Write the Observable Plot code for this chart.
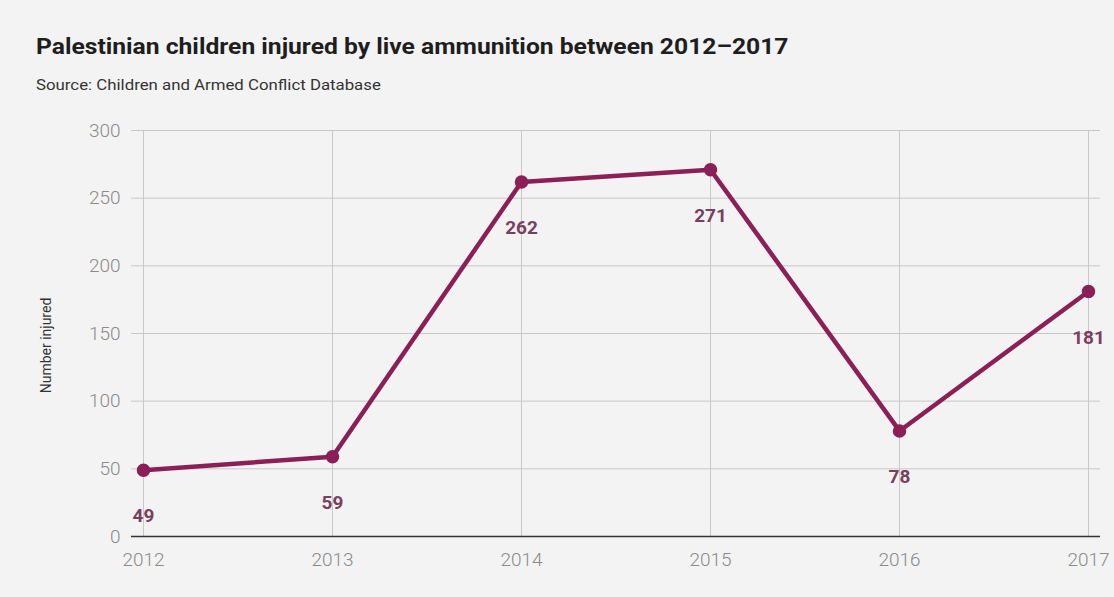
<!DOCTYPE html>
<html>
<head>
<meta charset="utf-8">
<script src="https://cdn.jsdelivr.net/npm/d3@7"></script>
<script src="https://cdn.jsdelivr.net/npm/@observablehq/plot@0.6"></script>
<style>
  html, body { margin: 0; padding: 0; background: #f3f3f3; }
  body { width: 1114px; height: 597px; position: relative; overflow: hidden; font-family: Roboto, "Noto Sans", sans-serif; }
  #title { position: absolute; left: 36px; top: 34px; font-size: 22px; font-weight: 700; color: #1e1e1e; white-space: nowrap; transform-origin: left top; transform: scaleX(1.12); }
  #subtitle { position: absolute; left: 36px; top: 77px; font-size: 14px; color: #333; white-space: nowrap; transform-origin: left top; transform: scaleX(1.2); }
  #chart { position: absolute; left: 0; top: 100px; }
</style>
</head>
<body>
<div id="title">Palestinian children injured by live ammunition between 2012–2017</div>
<div id="subtitle">Source: Children and Armed Conflict Database</div>
<div id="chart"></div>
<script>
const years = [2012, 2013, 2014, 2015, 2016, 2017];
const injured = [49, 59, 262, 271, 78, 181];
const yTicks = [0, 50, 100, 150, 200, 250, 300];
const yLabel = "Number injured";

const data = years.map((y, i) => ({year: y, value: injured[i]}));
const lineColor = "#8c1f56";

const chart = Plot.plot({
  width: 1114,
  height: 476,
  marginTop: 30,
  marginBottom: 40,
  marginLeft: 131,
  marginRight: 14,
  insetLeft: 12,
  insetRight: 12,
  style: {background: "transparent", fontFamily: "Roboto, sans-serif"},
  x: {domain: [2012, 2017], ticks: years, tickFormat: d => String(d)},
  y: {domain: [0, 300], ticks: yTicks},
  marks: [
    Plot.ruleY(yTicks.filter(d => d > 0), {stroke: "#c8c8c8", strokeWidth: 1}),
    Plot.ruleX(years, {stroke: "#c8c8c8", strokeWidth: 1}),
    Plot.ruleY([0], {stroke: "#333", strokeWidth: 1.5}),
    Plot.axisX({ticks: years, tickFormat: d => String(d), tickSize: 0, tickPadding: 16, fontSize: 19, fontWeight: 300, letterSpacing: 1, fill: "#8a8a8a", label: null}),
    Plot.axisY({ticks: yTicks, tickSize: 0, tickPadding: 11, fontSize: 19, fontWeight: 300, letterSpacing: 1, fill: "#8a8a8a", label: null}),
    Plot.line(data, {x: "year", y: "value", stroke: lineColor, strokeWidth: 4.5, strokeLinejoin: "round"}),
    Plot.dot(data, {x: "year", y: "value", r: 6, fill: lineColor, stroke: lineColor}),
    Plot.text(data, {x: "year", y: "value", text: d => String(d.value), dy: 46, fontSize: 19, fontWeight: "bold", fill: "#7a3f60"}),
    Plot.text([yLabel], {frameAnchor: "left", textAnchor: "middle", text: d => d, rotate: -90, dx: -85, dy: 12, fontSize: 14, letterSpacing: 0.5, fill: "#333"})
  ]
});
document.getElementById("chart").appendChild(chart);
</script>
</body>
</html>
